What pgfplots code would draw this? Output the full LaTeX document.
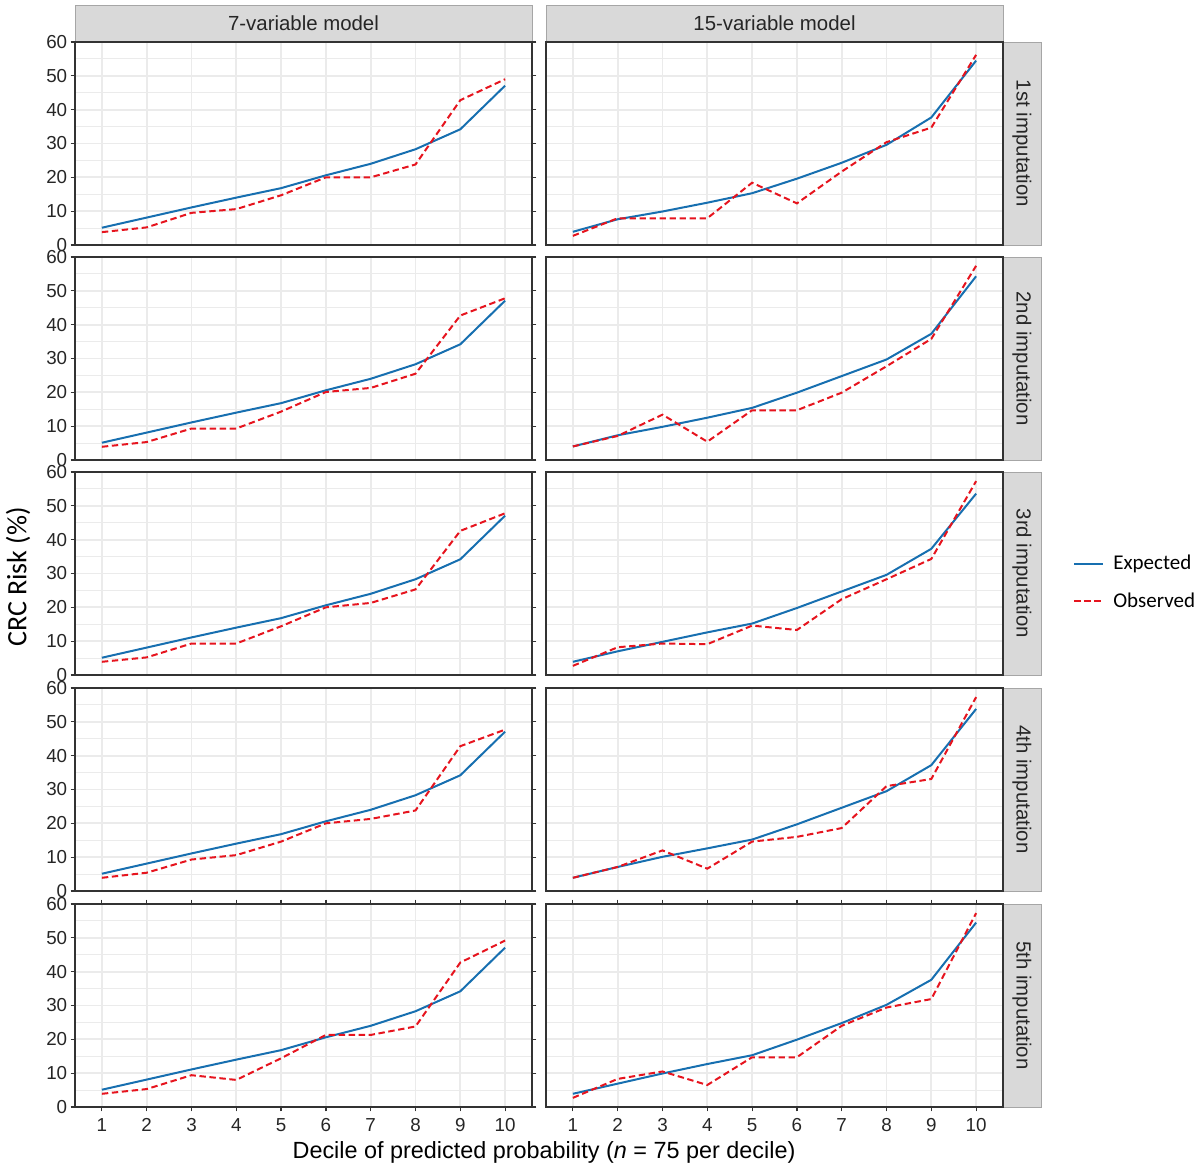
\documentclass[border=0pt]{standalone}
\usepackage{pgfplots}
\usepackage{pgfplotstable}
\pgfplotsset{compat=1.18}
\usepackage{fontspec}
\setmainfont{Liberation Sans}
\newfontfamily\carlito{Carlito}

\definecolor{expblue}{RGB}{23,111,176}
\definecolor{obsred}{RGB}{230,20,30}
\definecolor{gridgray}{RGB}{235,235,235}
\definecolor{framegray}{RGB}{51,51,51}
\definecolor{stripgray}{RGB}{217,217,217}

% columns: decile, expected, observed
\pgfplotstableread{
x exp obs
1 5.1 3.8
2 8.1 5.2
3 11.1 9.5
4 14.0 10.6
5 16.8 14.7
6 20.6 20.0
7 24.0 20.0
8 28.3 23.8
9 34.2 42.8
10 47.1 49.0
}\sevenA
\pgfplotstableread{
x exp obs
1 5.1 3.9
2 8.1 5.3
3 11.1 9.3
4 14.0 9.3
5 16.8 14.3
6 20.6 20.1
7 24.0 21.3
8 28.3 25.5
9 34.2 42.7
10 47.1 47.8
}\sevenB
\pgfplotstableread{
x exp obs
1 5.1 3.9
2 8.1 5.2
3 11.1 9.3
4 14.0 9.3
5 16.8 14.4
6 20.6 20.0
7 24.0 21.3
8 28.3 25.3
9 34.2 42.6
10 47.1 47.8
}\sevenC
\pgfplotstableread{
x exp obs
1 5.1 3.9
2 8.1 5.4
3 11.1 9.3
4 14.0 10.6
5 16.8 14.6
6 20.6 20.0
7 24.0 21.3
8 28.3 23.8
9 34.2 42.8
10 47.1 47.7
}\sevenD
\pgfplotstableread{
x exp obs
1 5.1 3.9
2 8.1 5.3
3 11.1 9.4
4 14.0 8.0
5 16.8 14.4
6 20.6 21.3
7 24.0 21.3
8 28.3 23.8
9 34.2 42.7
10 47.1 49.2
}\sevenE
\pgfplotstableread{
x exp obs
1 3.9 2.7
2 7.6 7.9
3 9.9 7.9
4 12.5 7.9
5 15.3 18.4
6 19.6 12.3
7 24.3 21.7
8 29.6 30.4
9 37.7 34.7
10 54.5 56.2
}\fifteenA
\pgfplotstableread{
x exp obs
1 4.0 4.0
2 7.3 7.1
3 9.8 13.4
4 12.5 5.4
5 15.4 14.7
6 19.9 14.7
7 24.8 19.9
8 29.7 27.7
9 37.3 35.8
10 54.3 57.4
}\fifteenB
\pgfplotstableread{
x exp obs
1 3.9 2.7
2 7.0 8.2
3 9.8 9.3
4 12.6 9.1
5 15.2 14.6
6 19.8 13.3
7 24.7 22.4
8 29.6 28.3
9 37.3 34.3
10 53.6 57.3
}\fifteenC
\pgfplotstableread{
x exp obs
1 3.9 3.9
2 7.1 7.1
3 10.1 12.0
4 12.6 6.6
5 15.2 14.6
6 19.7 16.0
7 24.6 18.6
8 29.5 31.0
9 37.2 33.1
10 53.8 57.3
}\fifteenD
\pgfplotstableread{
x exp obs
1 3.9 2.7
2 6.9 8.3
3 9.9 10.5
4 12.7 6.5
5 15.3 14.7
6 19.9 14.7
7 24.8 24.0
8 30.2 29.4
9 37.6 31.9
10 54.5 57.3
}\fifteenE

\pgfplotsset{
  panel/.style={
    scale only axis, width=228.5pt, height=101.5pt, anchor=north west,
    xmin=0.4, xmax=10.6, ymin=0, ymax=60,
    xtick={1,...,10}, ytick={0,10,...,60}, minor ytick={5,15,...,55},
    grid=both,
    major grid style={line width=0.9pt, color=gridgray},
    minor grid style={line width=0.5pt, color=gridgray},
    axis line style={draw=framegray, line width=0.6pt},
    tick align=outside, major tick length=2.2pt, minor tick length=0pt,
    xtick style={draw=none}, ytick style={draw=none},
    xticklabels={}, yticklabels={},
    ticklabel style={font=\fontsize{9.4}{11}\selectfont, text=black!85},
    yticklabel style={inner xsep=1.5pt},
    /pgf/number format/assume math mode=true,
  },
  leftcol/.style={
    ytick style={draw=framegray, line width=0.6pt},
    yticklabels={0,10,20,30,40,50,60},
  },
  bottomrow/.style={
    xtick style={draw=framegray, line width=0.6pt},
    xticklabels={1,2,3,4,5,6,7,8,9,10},
  },
  exps/.style={color=expblue, line width=1pt, no marks},
  obss/.style={color=obsred, line width=1pt, no marks, dash pattern=on 3.2pt off 1.8pt},
}

\newcommand{\panelplots}[1]{%
  \addplot[exps] table[x=x, y=exp] {#1};
  \addplot[obss] table[x=x, y=obs] {#1};
}

\begin{document}
\begin{tikzpicture}
\useasboundingbox (0pt,0pt) rectangle (600pt,-585pt);

% column strips
\draw[fill=stripgray, draw=gray!70, line width=0.4pt] (37.5pt,-2.5pt) rectangle (266pt,-21pt);
\draw[fill=stripgray, draw=gray!70, line width=0.4pt] (273pt,-2.5pt) rectangle (501.5pt,-21pt);
\node[font=\fontsize{10.2}{12}\selectfont, text=black!85] at (151.75pt,-11.75pt) {7-variable model};
\node[font=\fontsize{10.2}{12}\selectfont, text=black!85] at (387.25pt,-11.75pt) {15-variable model};

% row strips
\foreach \top/\lab in {21/1st, 128.5/2nd, 236/3rd, 344/4th, 452/5th}{
  \draw[fill=stripgray, draw=gray!70, line width=0.4pt] (501.5pt,-\top pt) rectangle (520.5pt,-\top pt-101.5pt);
  \node[rotate=-90, font=\fontsize{10.2}{12}\selectfont, text=black!85] at (511pt,-\top pt-50.75pt) {\lab\ imputation};
}

% 7-variable model
\begin{axis}[panel, leftcol, at={(37.5pt,-21pt)}]
\panelplots{\sevenA}
\end{axis}
\begin{axis}[panel, leftcol, at={(37.5pt,-128.5pt)}]
\panelplots{\sevenB}
\end{axis}
\begin{axis}[panel, leftcol, at={(37.5pt,-236pt)}]
\panelplots{\sevenC}
\end{axis}
\begin{axis}[panel, leftcol, at={(37.5pt,-344pt)}]
\panelplots{\sevenD}
\end{axis}
\begin{axis}[panel, leftcol, bottomrow, at={(37.5pt,-452pt)}]
\panelplots{\sevenE}
\end{axis}

% 15-variable model
\begin{axis}[panel, at={(273pt,-21pt)}]
\panelplots{\fifteenA}
\end{axis}
\begin{axis}[panel, at={(273pt,-128.5pt)}]
\panelplots{\fifteenB}
\end{axis}
\begin{axis}[panel, at={(273pt,-236pt)},
  legend style={draw=none, fill=none, at={(1.153,0.455)}, anchor=west,
    font=\carlito\fontsize{10.5}{12}\selectfont, row sep=6pt, inner sep=0pt,
    /tikz/every odd column/.append style={column sep=2.5pt}},
  legend cell align=left,
  legend image code/.code={\draw[#1] (0pt,0pt) -- (14.5pt,0pt);}]
\panelplots{\fifteenC}
\legend{Expected, Observed}
\end{axis}
\begin{axis}[panel, at={(273pt,-344pt)}]
\panelplots{\fifteenD}
\end{axis}
\begin{axis}[panel, bottomrow, at={(273pt,-452pt)}]
\panelplots{\fifteenE}
\end{axis}

% axis titles
\node[font=\fontsize{11.7}{14}\selectfont] at (272pt,-576pt) {Decile of predicted probability (\textit{n} = 75 per decile)};
\node[rotate=90, font=\carlito\fontsize{14}{16}\selectfont] at (9pt,-288.5pt) {CRC Risk (\%)};
\end{tikzpicture}
\end{document}
